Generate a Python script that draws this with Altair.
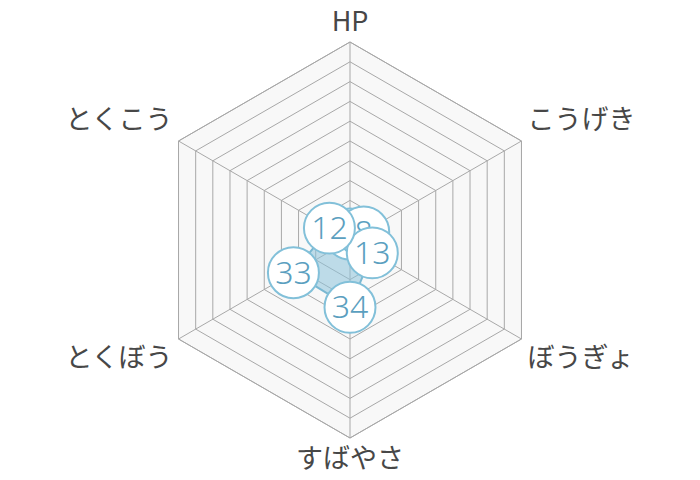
import altair as alt
import pandas as pd

categories = ["HP", "こうげき", "ぼうぎょ", "すばやさ", "とくぼう", "とくこう"]
values = [3, 8, 13, 34, 33, 12]
ring_levels = [10, 20, 30, 40, 50, 60, 70, 80, 90, 100]
max_value = 100

K = 1.98  # px per unit
W, H = 684, 464
CX, CY = 342, 232
xr = CX / K
yr = CY / K

xs = alt.Scale(domain=[-xr, xr], nice=False, zero=False)
ys = alt.Scale(domain=[-yr, yr], nice=False, zero=False)

n = len(categories)
data_df = pd.DataFrame({"cat": categories, "value": values, "i": list(range(n))})
ring_df = pd.DataFrame(
    [{"level": lv, "i": i} for lv in ring_levels for i in range(n)]
)
axis_df = pd.DataFrame({"cat": categories, "i": list(range(n)), "r": [max_value] * n})

ang = "PI * datum.i / 3"

ring_base = alt.Chart(ring_df).transform_calculate(
    x=f"datum.level * sin({ang})", y=f"datum.level * cos({ang})"
)
enc = dict(
    x=alt.X("x:Q", scale=xs, axis=None),
    y=alt.Y("y:Q", scale=ys, axis=None),
)

background = (
    ring_base.transform_filter(alt.datum.level == max_value)
    .mark_line(interpolate="linear-closed", stroke="#a8a8a8", strokeWidth=1, fill="#f8f8f8")
    .encode(order="i:Q", **enc)
)

rings = (
    ring_base.mark_line(interpolate="linear-closed", stroke="#a8a8a8", strokeWidth=1)
    .encode(detail="level:N", order="i:Q", **enc)
)

spokes = (
    alt.Chart(axis_df)
    .transform_calculate(
        x=f"datum.r * sin({ang})", y=f"datum.r * cos({ang})", x0="0", y0="0"
    )
    .mark_rule(stroke="#a8a8a8", strokeWidth=1)
    .encode(
        x=alt.X("x0:Q", scale=xs, axis=None),
        y=alt.Y("y0:Q", scale=ys, axis=None),
        x2="x:Q",
        y2="y:Q",
    )
)

poly = (
    alt.Chart(data_df)
    .transform_calculate(x=f"datum.value * sin({ang})", y=f"datum.value * cos({ang})")
    .mark_line(
        interpolate="linear-closed",
        stroke="#7ab8d2",
        strokeWidth=2,
        fill="#8cc3da",
        fillOpacity=0.55,
    )
    .encode(order="i:Q", **enc)
)

label_layers = []
for c in categories:
    base = (
        alt.Chart(data_df)
        .transform_filter(alt.datum.cat == c)
        .transform_calculate(x=f"datum.value * sin({ang})", y=f"datum.value * cos({ang})")
    )
    circ = base.mark_point(
        shape="circle", size=2600, filled=True, fill="white", stroke="#82c0d9",
        strokeWidth=2, opacity=1,
    ).encode(**enc)
    txt = base.mark_text(
        fontSize=32, font="Noto Sans", fontWeight=300, color="#5b9fbf",
        baseline="middle", align="center", dy=1,
    ).encode(text="value:Q", **enc)
    label_layers += [circ, txt]

lab_base = alt.Chart(axis_df).transform_calculate(
    s=f"sin({ang})", c=f"cos({ang})"
).transform_calculate(
    lx="abs(datum.s) < 0.1 ? 0 : datum.r * datum.s + (datum.s > 0 ? 3 : -3)",
    ly="datum.c > 0.9 ? 109.5 : (datum.c < -0.9 ? -111 : datum.r * datum.c + (datum.c > 0 ? 10 : -10))",
)

def cat_text(filter_expr, align):
    return lab_base.transform_filter(filter_expr).mark_text(
        fontSize=27, font="Noto Sans CJK JP", color="#474747",
        align=align, baseline="middle",
    ).encode(
        x=alt.X("lx:Q", scale=xs, axis=None),
        y=alt.Y("ly:Q", scale=ys, axis=None),
        text="cat:N",
    )

lab_c = cat_text("abs(datum.s) < 0.1", "center")
lab_l = cat_text("datum.s >= 0.1", "left")
lab_r = cat_text("datum.s <= -0.1", "right")

chart = (
    alt.layer(background, rings, spokes, poly, *label_layers, lab_c, lab_l, lab_r)
    .properties(width=W, height=H, padding=0, autosize=alt.AutoSizeParams(type="none"))
    .configure_view(stroke=None)
)

chart.save("out.html", embed_options={"renderer": "svg", "actions": False})
